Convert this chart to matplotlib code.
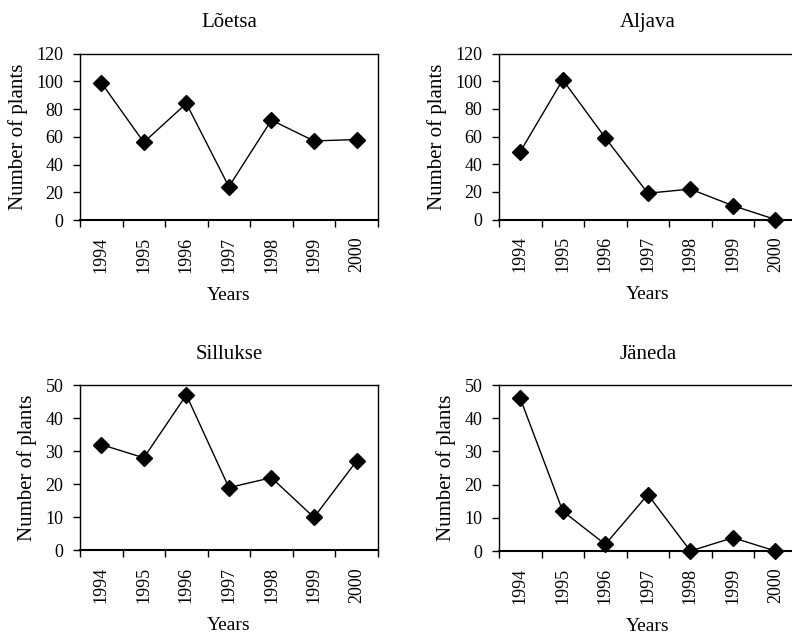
import matplotlib.pyplot as plt
import numpy as np

plt.rcParams['font.family'] = ['Liberation Serif', 'DejaVu Serif']

years = ['1994', '1995', '1996', '1997', '1998', '1999', '2000']
loetsa = [99, 56, 84, 24, 72, 57, 58]
aljava = [49, 101, 59, 19, 22, 10, 0]
sillukse = [32, 28, 47, 19, 22, 10, 27]
janeda = [46, 12, 2, 17, 0, 4, 0]

panels = [
    ('Lõetsa', loetsa, 120, [0.101, 0.6546, 0.376, 0.2614]),
    ('Aljava', aljava, 120, [0.630, 0.6554, 0.376, 0.2606]),
    ('Sillukse', sillukse, 50, [0.101, 0.1358, 0.376, 0.2598]),
    ('Jäneda', janeda, 50, [0.630, 0.1350, 0.376, 0.2606]),
]


def main():
    fig = plt.figure(figsize=(7.92, 6.37), dpi=100)
    x = np.arange(len(years))
    for title, vals, ymax, pos in panels:
        ax = fig.add_axes(pos)
        ax.plot(x, vals, color='black', lw=1, marker='D', ms=8,
                mfc='black', mec='black', clip_on=False)
        ax.set_xlim(-0.5, len(years) - 0.5)
        ax.set_ylim(0, ymax)
        ax.set_yticks(np.arange(0, ymax + 1, 20 if ymax > 50 else 10))
        ax.set_xticks(x)
        ax.set_xticklabels(years, rotation=90)
        # category boundaries get the tick marks, like the original
        ax.set_xticks(np.arange(-0.5, len(years)), minor=True)
        ax.tick_params(axis='x', which='major', length=0, pad=12, labelsize=13)
        ax.tick_params(axis='x', which='minor', length=5, width=1, direction='out')
        ax.tick_params(axis='y', length=5, width=1, direction='out', labelsize=13, pad=7)
        for s in ax.spines.values():
            s.set_linewidth(1)
        ax.spines['bottom'].set_linewidth(1.5)
        ax.set_title(title, fontsize=15, pad=19)
        ax.set_xlabel('Years', fontsize=14, labelpad=10)
        ax.set_ylabel('Number of plants', fontsize=15, labelpad=6)
    fig.savefig('out.png', dpi=100)


if __name__ == "__main__":
    main()
